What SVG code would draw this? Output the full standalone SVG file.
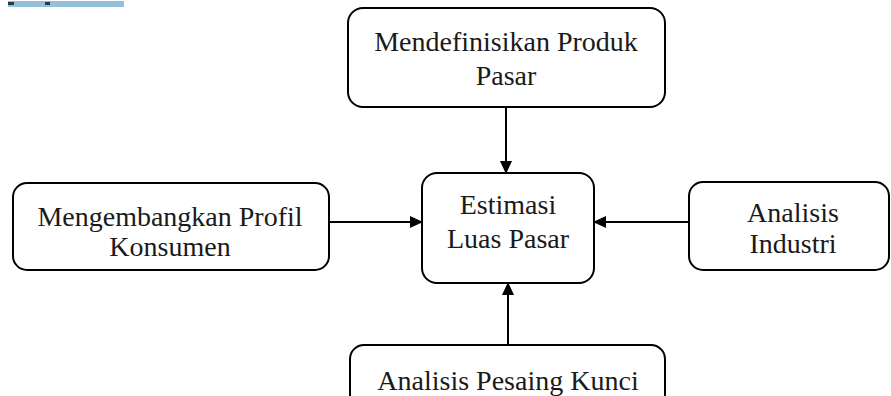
<svg xmlns="http://www.w3.org/2000/svg" width="891" height="396" viewBox="0 0 891 396">
<style>
.box{fill:#fff;stroke:#000;stroke-width:2}
.t{font-family:"Liberation Serif","Times New Roman",serif;font-size:28px;fill:#1a1a1a;text-anchor:middle}
.c{stroke:#000;stroke-width:2;fill:none;marker-end:url(#ah)}
</style>
<defs>
<marker id="ah" markerWidth="13" markerHeight="12" refX="12" refY="6" orient="auto" markerUnits="userSpaceOnUse">
<path d="M0,0 L13,6 L0,12 Z" fill="#000"/>
</marker>
</defs>
<rect width="891" height="396" fill="#fff"/>
<g id="bar">
<rect x="8" y="1" width="116" height="6" fill="#93c0dc"/>
<rect x="8" y="2" width="6" height="3" fill="#2a3a44"/>
<rect x="45" y="2" width="5" height="3" fill="#2a3a44"/>
</g>
<g id="connectors">
<line class="c" x1="506" y1="107" x2="506" y2="173"/>
<line class="c" x1="329" y1="222" x2="422" y2="222"/>
<line class="c" x1="689" y1="222" x2="594" y2="222"/>
<line class="c" x1="508" y1="345" x2="508" y2="283"/>
</g>
<g id="n-produk">
<rect class="box" x="348" y="8" width="317" height="99" rx="15"/>
<text class="t" x="506" y="51">Mendefinisikan Produk</text>
<text class="t" x="506" y="85">Pasar</text>
</g>
<g id="n-konsumen">
<rect class="box" x="13" y="183" width="316" height="87" rx="14"/>
<text class="t" x="170" y="226">Mengembangkan Profil</text>
<text class="t" x="170" y="256">Konsumen</text>
</g>
<g id="n-estimasi">
<rect class="box" x="422" y="173" width="172" height="110" rx="15"/>
<text class="t" x="508" y="214">Estimasi</text>
<text class="t" x="508" y="248">Luas Pasar</text>
</g>
<g id="n-industri">
<rect class="box" x="689" y="182" width="200" height="88" rx="14"/>
<text class="t" x="793" y="222">Analisis</text>
<text class="t" x="793" y="253">Industri</text>
</g>
<g id="n-pesaing">
<rect class="box" x="350" y="345" width="315" height="70" rx="14"/>
<text class="t" x="508" y="390">Analisis Pesaing Kunci</text>
</g>
</svg>
